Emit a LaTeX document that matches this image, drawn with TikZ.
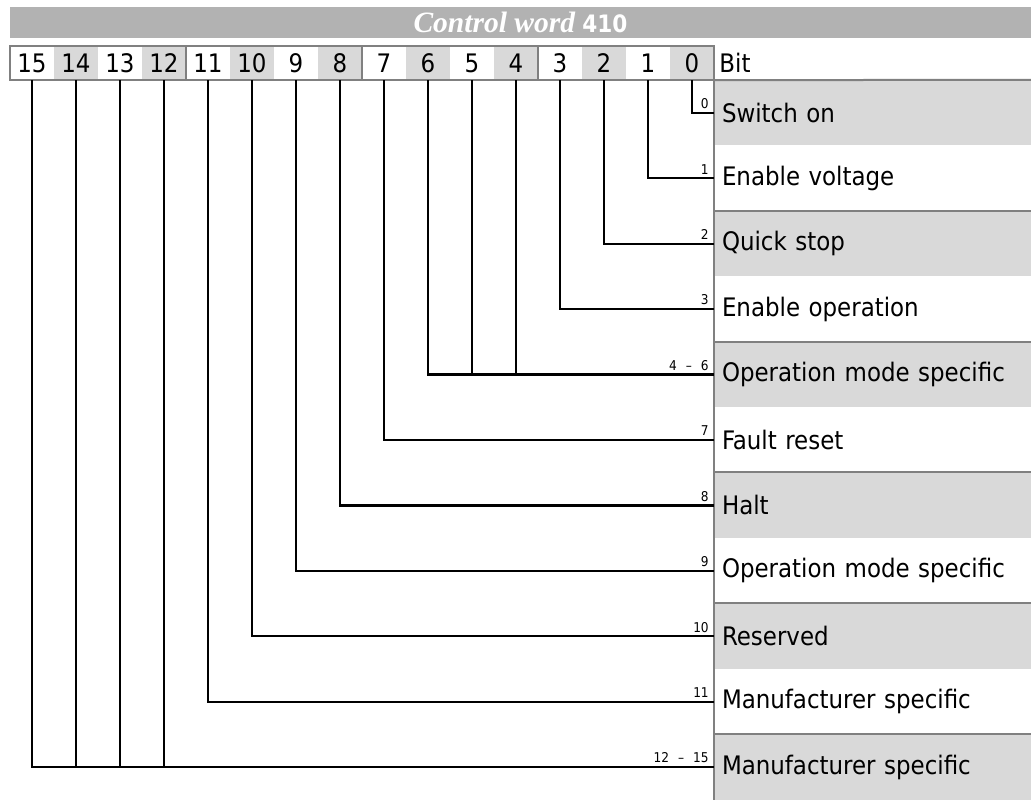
\documentclass[tikz,border=0pt]{standalone}
\usepackage{fontspec}
\setmainfont{DejaVu Sans Condensed}
\newfontfamily\headserif{Liberation Serif}
\usetikzlibrary{positioning}
\definecolor{chead}{HTML}{B2B2B2}
\definecolor{cfill}{HTML}{D9D9D9}
\definecolor{cedge}{HTML}{808080}
\tikzset{
  every picture/.style={x=1pt, y=-1pt},
  bitcell/.style={fill=#1, minimum width=44pt, minimum height=34pt, inner sep=0pt, font=\fontsize{25.5}{28}\selectfont},
  bitcell/.default=white,
  rowbox/.style={fill=#1, minimum width=317pt, minimum height=65.45pt, text width=301pt, inner xsep=8pt, inner ysep=0pt, align=left, font=\fontsize{25.5}{28}\selectfont},
  rowbox/.default=white,
  wire/.style={draw=black, line width=2.2pt},
  edge/.style={draw=cedge, line width=2pt},
  tag/.style={pos=1, anchor=south east, inner xsep=4pt, inner ysep=3pt, font=\fontsize{13.5}{15}\selectfont},
  title/.style={fill=chead, text=white, minimum width=1021pt, minimum height=31pt, inner sep=0pt},
}
\begin{document}
\begin{tikzpicture}
  \useasboundingbox (0,0) rectangle (1031,800);
  \node[title] (hd) at (520.5,22.5) {\headserif\bfseries\itshape\fontsize{29.5}{31}\selectfont Control word \normalfont\bfseries\fontsize{24}{26}\selectfont 410};
  % bit cells
  \node[bitcell] (b15) at (32,63) {15}; \node[bitcell=cfill] (b14) at (76,63) {14};
  \node[bitcell] (b13) at (120,63) {13}; \node[bitcell=cfill] (b12) at (164,63) {12};
  \node[bitcell] (b11) at (208,63) {11}; \node[bitcell=cfill] (b10) at (252,63) {10};
  \node[bitcell] (b9) at (296,63) {9}; \node[bitcell=cfill] (b8) at (340,63) {8};
  \node[bitcell] (b7) at (384,63) {7}; \node[bitcell=cfill] (b6) at (428,63) {6};
  \node[bitcell] (b5) at (472,63) {5}; \node[bitcell=cfill] (b4) at (516,63) {4};
  \node[bitcell] (b3) at (560,63) {3}; \node[bitcell=cfill] (b2) at (604,63) {2};
  \node[bitcell] (b1) at (648,63) {1}; \node[bitcell=cfill] (b0) at (692,63) {0};
  \node[anchor=west, inner sep=5pt, font=\fontsize{25.5}{28}\selectfont] (bit) at (b0.east) {Bit};
  % meaning rows
  \node[rowbox=cfill] (l0) at (872.5,112.7) {Switch on};
  \node[rowbox] (l1) at (872.5,178.2) {Enable voltage};
  \node[rowbox=cfill] (l2) at (872.5,243.6) {Quick stop};
  \node[rowbox] (l3) at (872.5,309.1) {Enable operation};
  \node[rowbox=cfill] (l4) at (872.5,374.5) {Operation mode specific};
  \node[rowbox] (l5) at (872.5,440.0) {Fault reset};
  \node[rowbox=cfill] (l6) at (872.5,505.4) {Halt};
  \node[rowbox] (l7) at (872.5,570.9) {Operation mode specific};
  \node[rowbox=cfill] (l8) at (872.5,636.3) {Reserved};
  \node[rowbox] (l9) at (872.5,701.8) {Manufacturer specific};
  \node[rowbox=cfill] (l10) at (872.5,767.2) {Manufacturer specific};
  % frames
  \draw[edge] (b15.north west) rectangle (b0.south east);
  \draw[edge] (b12.north east) -- (b12.south east); \draw[edge] (b8.north east) -- (b8.south east);
  \draw[edge] (b4.north east) -- (b4.south east);
  \draw[edge] (b0.south east) -- (l0.north east); \draw[edge] (l0.north west) -- (l10.south west);
  \draw[edge] (l2.north west) -- (l2.north east); \draw[edge] (l4.north west) -- (l4.north east);
  \draw[edge] (l6.north west) -- (l6.north east); \draw[edge] (l8.north west) -- (l8.north east);
  \draw[edge] (l10.north west) -- (l10.north east);
  % bit lines
  \draw[wire] (b0.south) |- node[tag] {0} (l0.west);
  \draw[wire] (b1.south) |- node[tag] {1} (l1.west);
  \draw[wire] (b2.south) |- node[tag] {2} (l2.west);
  \draw[wire] (b3.south) |- node[tag] {3} (l3.west);
  \draw[wire] (b4.south) |- (l4.west); \draw[wire] (b5.south) |- (l4.west);
  \draw[wire] (b6.south) |- node[tag] {4\hspace{9pt}–\hspace{9pt}6} (l4.west);
  \draw[wire] (b7.south) |- node[tag] {7} (l5.west);
  \draw[wire] (b8.south) |- node[tag] {8} (l6.west);
  \draw[wire] (b9.south) |- node[tag] {9} (l7.west);
  \draw[wire] (b10.south) |- node[tag] {10} (l8.west);
  \draw[wire] (b11.south) |- node[tag] {11} (l9.west);
  \draw[wire] (b12.south) |- (l10.west); \draw[wire] (b13.south) |- (l10.west);
  \draw[wire] (b14.south) |- (l10.west);
  \draw[wire] (b15.south) |- node[tag] {12\hspace{9pt}–\hspace{9pt}15} (l10.west);
\end{tikzpicture}
\end{document}
